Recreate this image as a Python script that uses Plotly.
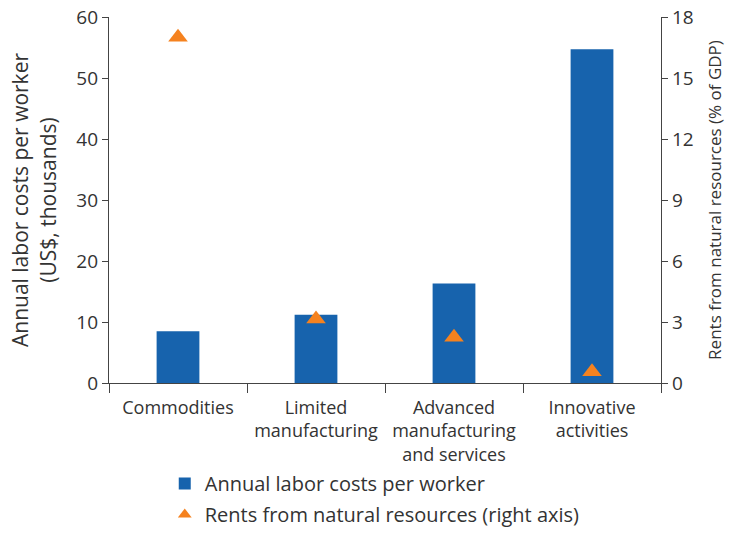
import plotly.graph_objects as go

categories = ["Commodities", "Limited<br>manufacturing", "Advanced<br>manufacturing<br>and services", "Innovative<br>activities"]
labor_costs = [8.5, 11.2, 16.3, 54.7]
rents = [17.0, 3.15, 2.25, 0.55]

FONT = "'Open Sans', 'Noto Sans', sans-serif"
TXT = "#333333"

H = 534
TOP = 17
PLOT_BOTTOM = 383
dom_bottom = (H - PLOT_BOTTOM) / (H - TOP)

fig = go.Figure()
fig.add_trace(go.Bar(
    x=categories, y=labor_costs, name="Annual labor costs per worker",
    marker=dict(color="#1763ad", line=dict(width=0)), width=0.31, yaxis="y",
    legendgroup="a",
))
fig.add_trace(go.Scatter(
    x=categories, y=rents, name="Rents from natural resources (right axis)",
    mode="markers", marker=dict(symbol="triangle-up", size=17, color="#f5821f"),
    yaxis="y2", legendgroup="b",
))

fig.update_layout(
    width=743, height=H,
    margin=dict(l=109, r=82, t=TOP, b=0),
    plot_bgcolor="white", paper_bgcolor="white",
    font=dict(family=FONT, color=TXT, size=17),
    showlegend=True,
    legend=dict(x=0.101, y=0, xanchor="left", yanchor="bottom",
                orientation="v", font=dict(size=20, color=TXT),
                itemsizing="constant", traceorder="grouped", tracegroupgap=2,
                bgcolor="rgba(0,0,0,0)"),
    xaxis=dict(
        showline=True, linecolor="#444", linewidth=1.2, automargin=False,
        ticks="outside", tickson="boundaries", ticklen=9, tickcolor="#444",
        ticklabelstandoff=8,
        tickfont=dict(size=18, color=TXT), showgrid=False,
    ),
    yaxis=dict(
        domain=[dom_bottom, 1],
        range=[0, 60], dtick=10, showline=True, linecolor="#444", linewidth=1.2,
        ticks="outside", ticklen=6, tickcolor="#444", showgrid=False, zeroline=False,
        tickfont=dict(size=19, color=TXT), automargin=False,
        title=dict(text="Annual labor costs per worker<br>(US$, thousands)",
                   font=dict(size=21, color=TXT), standoff=14),
    ),
    yaxis2=dict(
        domain=[dom_bottom, 1],
        range=[0, 18], dtick=3, overlaying="y", side="right",
        showline=True, linecolor="#444", linewidth=1.2, automargin=False,
        ticks="outside", ticklen=6, tickcolor="#444", showgrid=False, zeroline=False,
        tickfont=dict(size=19, color=TXT),
        title=dict(text="Rents from natural resources (% of GDP)",
                   font=dict(size=17, color=TXT), standoff=16),
    ),
    bargap=0.69,
)

fig.write_html("out.html", config={"displayModeBar": False})
with open("out.html", "r", encoding="utf-8") as f:
    html = f.read()
html = html.replace("<head>", "<head><style>html,body{margin:0;padding:0;}</style>", 1)
with open("out.html", "w", encoding="utf-8") as f:
    f.write(html)
